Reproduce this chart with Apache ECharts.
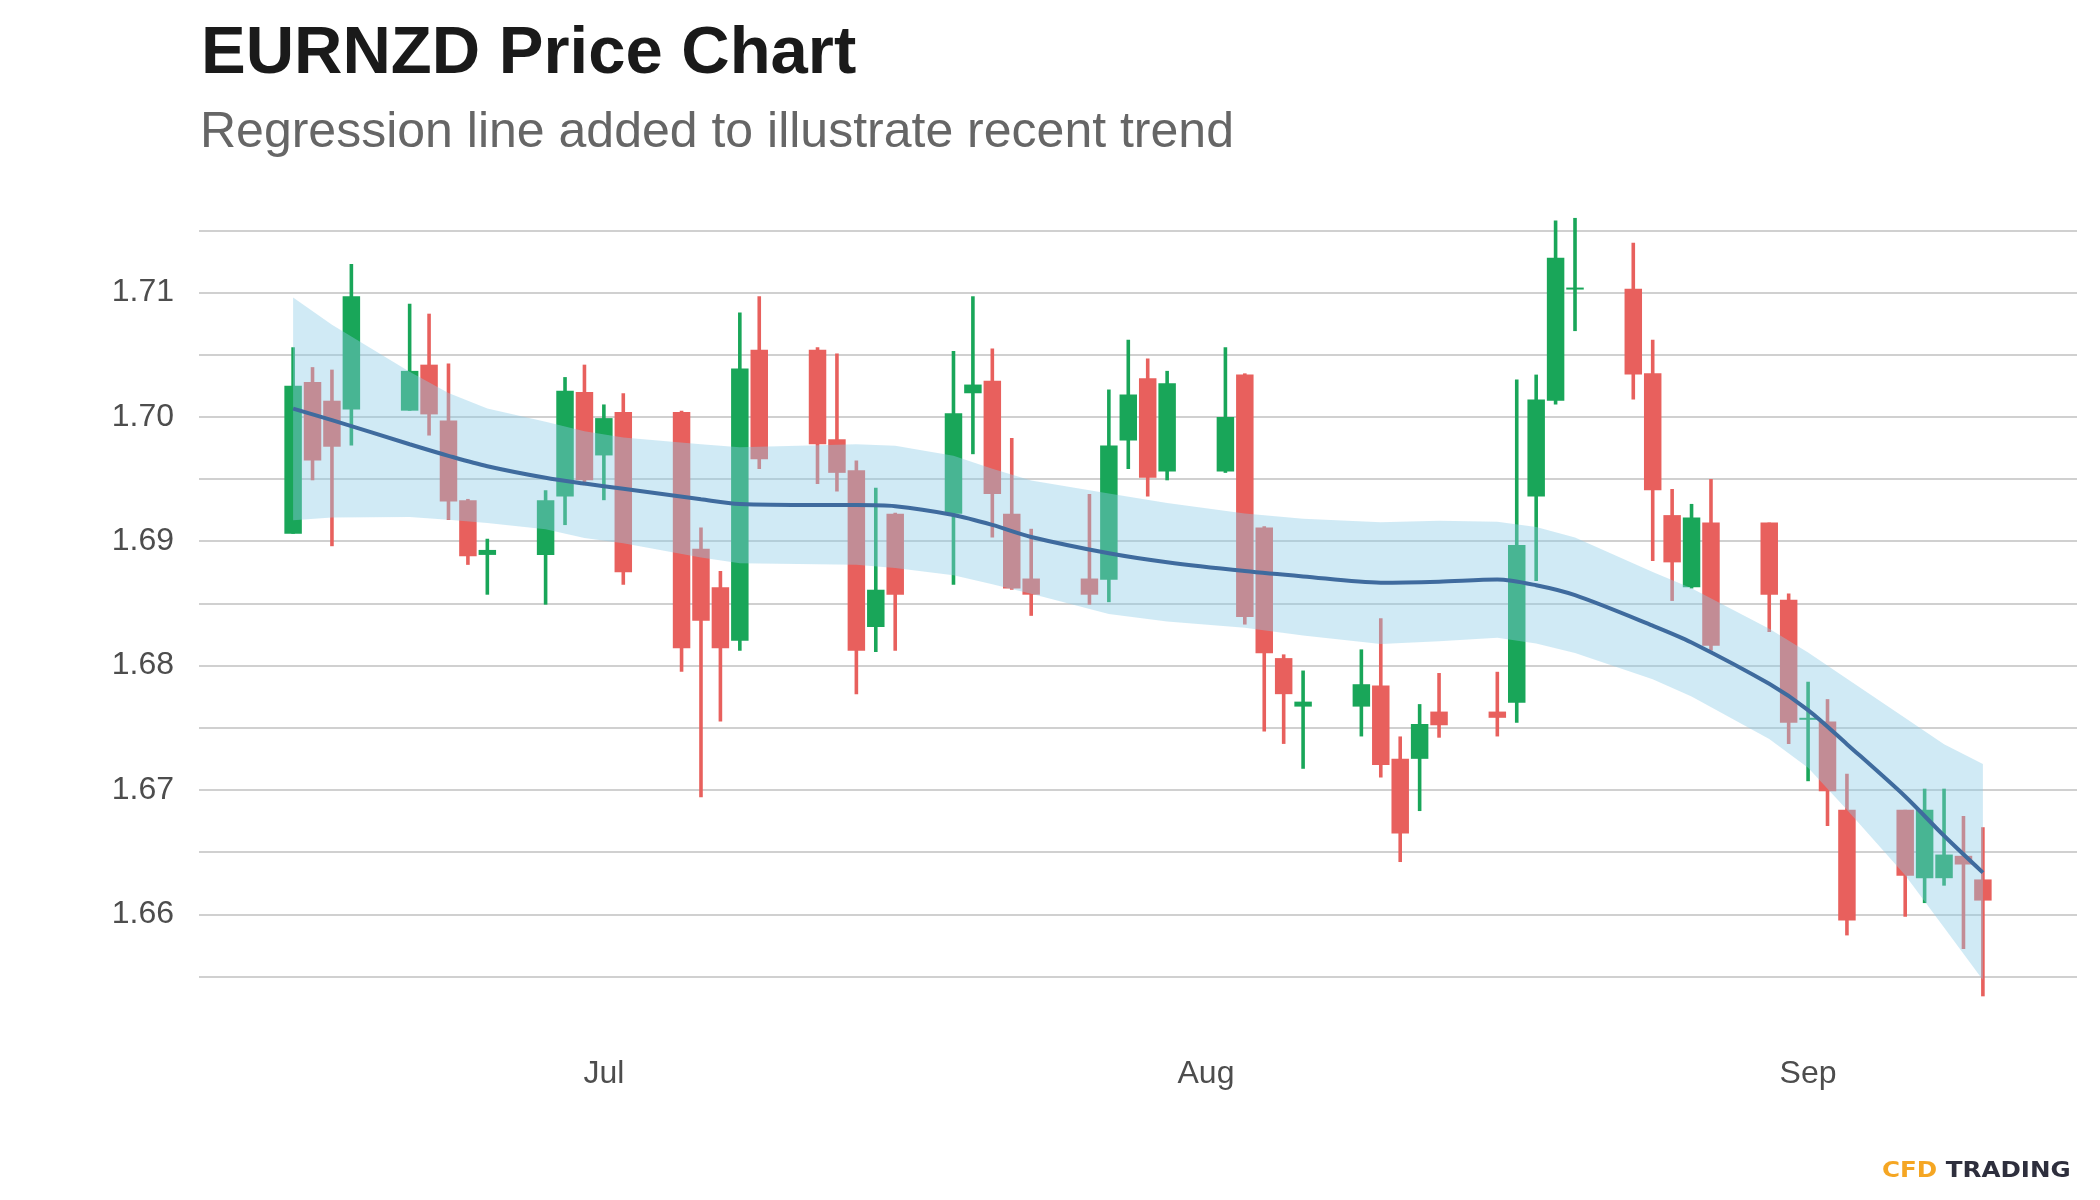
<!DOCTYPE html>
<html>
<head>
<meta charset="utf-8">
<script src="https://cdn.jsdelivr.net/npm/echarts@6/dist/echarts.min.js"></script>
<style>
html,body{margin:0;padding:0;background:#fff;}
#chart{width:2100px;height:1200px;}
</style>
</head>
<body>
<div id="chart"></div>
<script>
// ---------- DATA ----------
const dates = [
 '2021-06-15','2021-06-16','2021-06-17','2021-06-18',
 '2021-06-21','2021-06-22','2021-06-23','2021-06-24','2021-06-25',
 '2021-06-28','2021-06-29','2021-06-30','2021-07-01','2021-07-02',
 '2021-07-05','2021-07-06','2021-07-07','2021-07-08','2021-07-09',
 '2021-07-12','2021-07-13','2021-07-14','2021-07-15','2021-07-16',
 '2021-07-19','2021-07-20','2021-07-21','2021-07-22','2021-07-23',
 '2021-07-26','2021-07-27','2021-07-28','2021-07-29','2021-07-30',
 '2021-08-02','2021-08-03','2021-08-04','2021-08-05','2021-08-06',
 '2021-08-09','2021-08-10','2021-08-11','2021-08-12','2021-08-13',
 '2021-08-16','2021-08-17','2021-08-18','2021-08-19','2021-08-20',
 '2021-08-23','2021-08-24','2021-08-25','2021-08-26','2021-08-27',
 '2021-08-30','2021-08-31','2021-09-01','2021-09-02','2021-09-03',
 '2021-09-06','2021-09-07','2021-09-08','2021-09-09','2021-09-10'
];
const open = [
 1.6906,1.7028,1.7013,1.7006,
 1.7005,1.7042,1.6997,1.6933,1.6889,
 1.6889,1.6936,1.7020,1.6969,1.7004,
 1.7004,1.6894,1.6863,1.6820,1.7054,
 1.7054,1.6982,1.6957,1.6831,1.6922,
 1.6922,1.7019,1.7029,1.6922,1.6870,
 1.6870,1.6869,1.6981,1.7031,1.6956,
 1.6956,1.7034,1.6911,1.6806,1.6767,
 1.6767,1.6784,1.6725,1.6725,1.6763,
 1.6763,1.6770,1.6936,1.7013,1.7103,
 1.7103,1.7035,1.6921,1.6863,1.6915,
 1.6915,1.6853,1.6757,1.6755,1.6684,
 1.6684,1.6629,1.6629,1.6647,1.6628
];
const close = [
 1.7025,1.6965,1.6976,1.7097,
 1.7037,1.7002,1.6932,1.6888,1.6893,
 1.6933,1.7021,1.6949,1.6999,1.6875,
 1.6814,1.6836,1.6814,1.7039,1.6966,
 1.6978,1.6955,1.6812,1.6861,1.6857,
 1.7003,1.7026,1.6938,1.6862,1.6857,
 1.6857,1.6977,1.7018,1.6951,1.7027,
 1.7000,1.6839,1.6810,1.6777,1.6771,
 1.6785,1.6720,1.6665,1.6753,1.6752,
 1.6758,1.6897,1.7014,1.7128,1.7104,
 1.7034,1.6941,1.6883,1.6919,1.6816,
 1.6857,1.6754,1.6758,1.6699,1.6595,
 1.6631,1.6684,1.6648,1.6640,1.6611
];
const low = [
 1.6906,1.6949,1.6896,1.6977,
 1.7005,1.6985,1.6917,1.6881,1.6857,
 1.6849,1.6913,1.6945,1.6933,1.6865,
 1.6795,1.6694,1.6755,1.6812,1.6958,
 1.6946,1.6940,1.6777,1.6811,1.6812,
 1.6865,1.6970,1.6903,1.6861,1.6840,
 1.6849,1.6851,1.6958,1.6936,1.6949,
 1.6955,1.6833,1.6747,1.6737,1.6717,
 1.6743,1.6710,1.6642,1.6683,1.6742,
 1.6743,1.6754,1.6868,1.7010,1.7069,
 1.7014,1.6884,1.6852,1.6862,1.6812,
 1.6827,1.6737,1.6707,1.6671,1.6583,
 1.6598,1.6609,1.6623,1.6572,1.6534
];
const high = [
 1.7056,1.7040,1.7038,1.7123,
 1.7091,1.7083,1.7043,1.6934,1.6902,
 1.6941,1.7032,1.7042,1.7010,1.7019,
 1.7005,1.6911,1.6876,1.7084,1.7097,
 1.7056,1.7051,1.6965,1.6943,1.6923,
 1.7053,1.7097,1.7055,1.6983,1.6910,
 1.6938,1.7022,1.7062,1.7047,1.7037,
 1.7056,1.7035,1.6912,1.6809,1.6796,
 1.6813,1.6838,1.6743,1.6769,1.6794,
 1.6795,1.7030,1.7034,1.7158,1.7160,
 1.7140,1.7062,1.6942,1.6930,1.6950,
 1.6915,1.6858,1.6787,1.6773,1.6713,
 1.6684,1.6701,1.6701,1.6679,1.6670
];
// regression (loess) line and its confidence band
const regDates = [
 '2021-06-15','2021-06-17','2021-06-21','2021-06-23','2021-06-25','2021-06-28',
 '2021-06-30','2021-07-02','2021-07-06','2021-07-08','2021-07-12','2021-07-14',
 '2021-07-16','2021-07-19','2021-07-21','2021-07-23','2021-07-27','2021-07-30',
 '2021-08-03','2021-08-06','2021-08-10','2021-08-13','2021-08-16','2021-08-18',
 '2021-08-20','2021-08-24','2021-08-26','2021-08-30','2021-09-01','2021-09-03',
 '2021-09-06','2021-09-08','2021-09-10'
];
const regFit = [
 1.70067,1.69974,1.69780,1.69687,1.69603,1.69510,
 1.69464,1.69422,1.69337,1.69299,1.69291,1.69291,
 1.69282,1.69211,1.69131,1.69034,1.68903,1.68831,
 1.68760,1.68717,1.68667,1.68675,1.68692,1.68646,
 1.68566,1.68321,1.68186,1.67853,1.67642,1.67368,
 1.66947,1.66631,1.66335
];
const regUpper = [
 1.70960,1.70741,1.70362,1.70193,1.70067,1.69961,
 1.69885,1.69835,1.69780,1.69755,1.69771,1.69780,
 1.69767,1.69687,1.69582,1.69489,1.69384,1.69308,
 1.69223,1.69181,1.69152,1.69164,1.69156,1.69114,
 1.69030,1.68753,1.68621,1.68296,1.68106,1.67895,
 1.67579,1.67368,1.67208
];
const regLower = [
 1.69169,1.69190,1.69194,1.69173,1.69147,1.69097,
 1.69025,1.68983,1.68869,1.68823,1.68814,1.68810,
 1.68785,1.68726,1.68654,1.68578,1.68414,1.68355,
 1.68304,1.68241,1.68174,1.68195,1.68224,1.68178,
 1.68102,1.67889,1.67752,1.67410,1.67179,1.66841,
 1.66314,1.65893,1.65471
];
const yTickValues = [1.66, 1.67, 1.68, 1.69, 1.70, 1.71];
const yTickLabels = ['1.66', '1.67', '1.68', '1.69', '1.70', '1.71'];
const xTickDates = ['2021-07-01', '2021-08-01', '2021-09-01'];
const xTickLabels = ['Jul', 'Aug', 'Sep'];
const titleText = 'EURNZD Price Chart';
const subtitleText = 'Regression line added to illustrate recent trend';

// ---------- BUILD ----------
function dayNum(s) {
  const p = s.split('-').map(Number);
  return Date.UTC(p[0], p[1] - 1, p[2]) / 86400000;
}
const GREEN = '#19a659', RED = '#e8605d';
const candleData = dates.map((d, i) => [dayNum(d), open[i], close[i], low[i], high[i]]);
const fitData = regDates.map((d, i) => [dayNum(d), regFit[i]]);
const bandData = regDates.map((d, i) => [dayNum(d), regLower[i], regUpper[i]]);
const xTickNums = xTickDates.map(dayNum);
const pad = 4.845;
const xMin = dayNum(dates[0]) - pad;
const xMax = dayNum(dates[dates.length - 1]) + pad;

const chart = echarts.init(document.getElementById('chart'), null, {renderer: 'canvas'});
const FONT = 'Liberation Sans, Arial, Helvetica, sans-serif';

chart.setOption({
  animation: false,
  backgroundColor: '#ffffff',
  title: [
    {text: titleText, left: 196, top: 16,
     textStyle: {fontFamily: FONT, fontSize: 67, fontWeight: 'bold', color: '#1a1a1a'}},
    {text: subtitleText, left: 195, top: 103,
     textStyle: {fontFamily: FONT, fontSize: 50, fontWeight: 'normal', color: '#666666'}}
  ],
  grid: {left: 199, right: 23, top: 168.2, bottom: 161.4, containLabel: false},
  xAxis: {
    type: 'value', min: xMin, max: xMax,
    axisLine: {show: false}, axisTick: {show: false}, splitLine: {show: false},
    axisLabel: {
      customValues: xTickNums,
      formatter: function (v) {
        const k = xTickNums.findIndex(t => Math.abs(t - v) < 1e-6);
        return k >= 0 ? xTickLabels[k] : '';
      },
      fontFamily: FONT, fontSize: 32, color: '#4d4d4d', margin: 20
    }
  },
  yAxis: {
    type: 'value', min: 1.65, max: 1.72, interval: 0.005,
    axisLine: {show: false}, axisTick: {show: false},
    splitLine: {show: true, showMinLine: false, showMaxLine: false,
      lineStyle: {color: '#d0d0d0', width: 2}},
    axisLabel: {
      showMinLabel: false, showMaxLabel: false,
      formatter: function (v) {
        const k = yTickValues.findIndex(t => Math.abs(t - v) < 1e-7);
        return k >= 0 ? yTickLabels[k] : '';
      },
      fontFamily: FONT, fontSize: 32, color: '#4d4d4d', margin: 25
    }
  },
  series: [
    {
      type: 'custom', name: 'EURNZD', z: 2,
      data: candleData,
      encode: {x: 0, y: [1, 2, 3, 4]},
      renderItem: function (params, api) {
        const x = api.value(0), o = api.value(1), c = api.value(2), l = api.value(3), h = api.value(4);
        const pO = api.coord([x, o]), pC = api.coord([x, c]);
        const pL = api.coord([x, l]), pH = api.coord([x, h]);
        const bw = api.size([0.9, 0])[0];
        const ww = 3.6;
        const color = c >= o ? GREEN : RED;
        const top = Math.min(pO[1], pC[1]);
        const hgt = Math.max(Math.abs(pO[1] - pC[1]), 2);
        return {
          type: 'group',
          children: [
            {type: 'rect', shape: {x: pH[0] - ww / 2, y: pH[1], width: ww, height: pL[1] - pH[1]},
             style: {fill: color}},
            {type: 'rect', shape: {x: pO[0] - bw / 2, y: top, width: bw, height: hgt},
             style: {fill: color}}
          ]
        };
      }
    },
    {
      type: 'custom', name: 'band', z: 3, silent: true,
      data: bandData,
      encode: {x: 0, y: [1, 2]},
      renderItem: function (params, api) {
        if (params.dataIndex !== 0) return null;
        const up = bandData.map(p => api.coord([p[0], p[2]]));
        const lo = bandData.map(p => api.coord([p[0], p[1]])).reverse();
        return {
          type: 'polygon',
          shape: {points: up.concat(lo)},
          style: {fill: 'rgba(140,204,230,0.41)'}
        };
      }
    },
    {
      type: 'line', name: 'fit', z: 4, data: fitData,
      smooth: 0.3, symbol: 'none',
      lineStyle: {color: '#3f6b9e', width: 4}, silent: true
    }
  ],
  graphic: [
    {
      type: 'text', x: 1882, y: 1172, scaleX: 1.17,
      style: {
        text: '{a|CFD} {b|TRADING}',
        verticalAlign: 'middle', align: 'left',
        rich: {
          a: {fill: '#f5a623', fontFamily: 'DejaVu Sans', fontWeight: 'bold', fontSize: 21},
          b: {fill: '#2e2f3d', fontFamily: 'DejaVu Sans', fontWeight: 'bold', fontSize: 21}
        },
        fontFamily: 'DejaVu Sans', fontWeight: 'bold', fontSize: 21
      }
    }
  ]
});
</script>
</body>
</html>
